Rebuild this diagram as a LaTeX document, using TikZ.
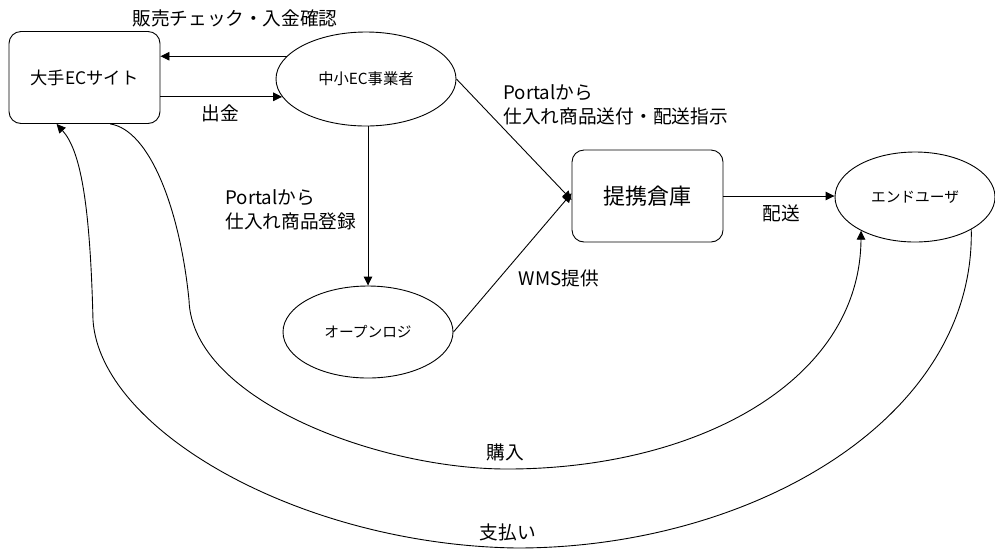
\documentclass[tikz,border=0pt]{standalone}
\usepackage{fontspec}
\setmainfont{Noto Sans CJK JP}
\usetikzlibrary{arrows.meta,shapes.geometric}
\begin{document}
\begin{tikzpicture}[x=1pt,y=-1pt, line width=0.9pt,
  arr/.style={-{Triangle[length=9pt,width=8.5pt]}},
  box/.style={draw, rounded corners=12pt, minimum width=151pt, minimum height=92pt, inner sep=0pt},
  ell/.style={draw, ellipse, inner sep=0pt},
  lab/.style={font=\fontsize{18.7}{24}\selectfont, inner sep=0pt},
  small/.style={font=\fontsize{14.7}{18}\selectfont}
  ]
\useasboundingbox (0,0) rectangle (995,550);

% nodes
\node[box, font=\fontsize{17.3}{20}\selectfont] (ec) at (84.5,77.5) {大手ECサイト};
\node[ell, minimum width=180pt, minimum height=94pt, font=\fontsize{15.3}{18}\selectfont] (sme) at (366,79) {中小EC事業者};
\node[ell, minimum width=170pt, minimum height=92pt, small] (ol) at (368,332) {オープンロジ};
\node[box, font=\fontsize{22}{26}\selectfont] (wh) at (647.5,196) {提携倉庫};
\node[ell, minimum width=160pt, minimum height=90pt, small] (eu) at (915,197) {エンドユーザ};

% straight connectors
\draw[arr] (sme.164.5) -- (sme.164.5 -| ec.east);
\draw[arr] (ec.east |- sme.192) -- (sme.192);
\draw[arr] (sme.south -| ol.north) -- (ol.north);
\draw[arr] (sme.east) -- (wh.183);
\draw[arr] (ol.east) -- (wh.178);
\draw[arr] (wh.east) -- (wh.east -| eu.west);

% curved connectors
\draw[arr] (ec.-61) .. controls (150,130) and (180,210) .. (189,300)
  .. controls (192,400) and (380,470) .. (510,469)
  .. controls (700,468) and (860,380) .. (eu.212);
\draw[arr] (eu.330) .. controls (975,420) and (750,548) .. (517,548)
  .. controls (300,545) and (100,430) .. (93,320)
  .. controls (90,200) and (80,150) .. (ec.-121);

% labels
\node[lab] (l1) at (235,18) {販売チェック・入金確認};
\node[lab] (l2) at (220,113) {出金};
\node[lab, anchor=west, align=left] (l3) at (503,105) {Portalから\\仕入れ商品送付・配送指示};
\node[lab, anchor=west, align=left] (l4) at (225,210) {Portalから\\仕入れ商品登録};
\node[lab] (l5) at (559,278) {WMS提供};
\node[lab] (l6) at (781,213) {配送};
\node[lab] (l7) at (505,452) {購入};
\node[lab] (l8) at (508,532) {支払い};
\end{tikzpicture}
\end{document}
